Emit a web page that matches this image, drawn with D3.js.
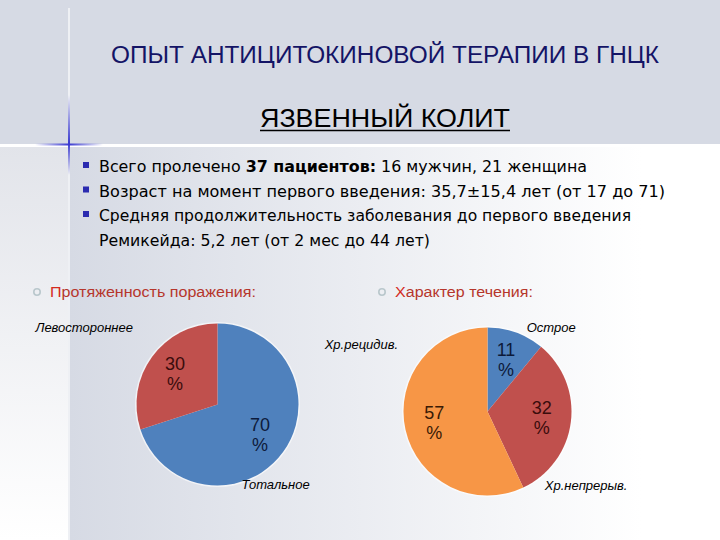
<!DOCTYPE html>
<meta charset="utf-8">
<style>
body { margin: 0; }
svg { display: block; }
.title { font-family: "Liberation Sans Narrow", "Arial Narrow", "Liberation Sans", sans-serif; fill: #141466; }
.bullets text { font-family: "DejaVu Sans Condensed", "DejaVu Sans", sans-serif; font-size: 15.5px; fill: #000; }
.head { font-family: "Liberation Sans", Arial, sans-serif; font-size: 14px; fill: #b6362c; }
.pct { font-family: "Liberation Sans", Arial, sans-serif; font-size: 18px; text-anchor: middle; }
.cat { font-family: "Liberation Sans", Arial, sans-serif; font-size: 13px; font-style: italic; fill: #000; text-anchor: middle; }
</style>
<body>
<svg width="720" height="540"></svg>
</body>
<script src="https://d3js.org/d3.v7.min.js"></script>
<script>

// chart data
var extentLabels = ["Тотальное", "Левостороннее"];
var extentValues = [70, 30];
var courseLabels = ["Острое", "Хр.непрерыв.", "Хр.рецидив."];
var courseValues = [11, 32, 57];

var bulletLines = [
  [{t: "Всего пролечено "}, {t: "37 пациентов:", b: true}, {t: " 16 мужчин, 21 женщина"}],
  [{t: "Возраст на момент первого введения: 35,7±15,4 лет (от 17 до 71)"}],
  [{t: "Средняя продолжительность заболевания до первого введения"}],
  [{t: "Ремикейда: 5,2 лет (от 2 мес до 44 лет)"}]
];

// where the outside category labels sit: [angle in degrees from top, radius factor]
var extentLabelPos = [[144, 1.22], [300, 1.9]];
var courseLabelPos = [[37, 1.26], [127, 1.47], [298, 1.7]];

(function() {
  var svg = d3.select("svg"),
      width = +svg.attr("width"),
      height = +svg.attr("height");

  var defs = svg.append("defs");

  var g1 = defs.append("linearGradient").attr("id", "mainBg")
      .attr("x1", 0).attr("x2", 1).attr("y1", 0).attr("y2", 0);
  g1.append("stop").attr("offset", "0%").attr("stop-color", "#d6dae4");
  g1.append("stop").attr("offset", "88%").attr("stop-color", "#ffffff");

  var g2 = defs.append("linearGradient").attr("id", "leftBg")
      .attr("x1", 0).attr("x2", 0).attr("y1", 0).attr("y2", 1);
  g2.append("stop").attr("offset", "0%").attr("stop-color", "#e2e4ea");
  g2.append("stop").attr("offset", "100%").attr("stop-color", "#ffffff");

  var g3 = defs.append("linearGradient").attr("id", "blueV")
      .attr("x1", 0).attr("x2", 0).attr("y1", 0).attr("y2", 1);
  g3.append("stop").attr("offset", "0%").attr("stop-color", "#3a3ad0").attr("stop-opacity", 0);
  g3.append("stop").attr("offset", "60%").attr("stop-color", "#3a3ad0").attr("stop-opacity", 1);
  g3.append("stop").attr("offset", "100%").attr("stop-color", "#3a3ad0").attr("stop-opacity", 0);

  var g4 = defs.append("linearGradient").attr("id", "blueH")
      .attr("x1", 0).attr("x2", 1).attr("y1", 0).attr("y2", 0);
  g4.append("stop").attr("offset", "0%").attr("stop-color", "#3a3ad0").attr("stop-opacity", 0);
  g4.append("stop").attr("offset", "50%").attr("stop-color", "#3a3ad0").attr("stop-opacity", 1);
  g4.append("stop").attr("offset", "100%").attr("stop-color", "#3a3ad0").attr("stop-opacity", 0);

  // background
  svg.append("rect").attr("width", width).attr("height", 145).attr("fill", "#d6dae4");
  svg.append("rect").attr("x", 0).attr("y", 145).attr("width", 69).attr("height", height - 145)
      .attr("fill", "url(#leftBg)");
  svg.append("rect").attr("x", 69).attr("y", 145).attr("width", width - 69).attr("height", height - 145)
      .attr("fill", "url(#mainBg)");
  svg.append("line").attr("x1", 69).attr("x2", 69).attr("y1", 8).attr("y2", height)
      .attr("stroke", "#eef0f4").attr("stroke-width", 2);
  svg.append("line").attr("x1", 0).attr("x2", width).attr("y1", 145.5).attr("y2", 145.5)
      .attr("stroke", "#ffffff").attr("stroke-width", 3);
  svg.append("rect").attr("x", 68).attr("y", 95).attr("width", 2).attr("height", 80).attr("fill", "url(#blueV)");
  svg.append("rect").attr("x", 35).attr("y", 143.5).attr("width", 68).attr("height", 2).attr("fill", "url(#blueH)");

  // titles
  svg.append("text").attr("class", "title")
      .attr("x", 385).attr("y", 63).attr("text-anchor", "middle")
      .attr("font-size", 23)
      .attr("textLength", 548).attr("lengthAdjust", "spacingAndGlyphs")
      .text("ОПЫТ АНТИЦИТОКИНОВОЙ ТЕРАПИИ В ГНЦК");

  svg.append("text").attr("class", "title")
      .attr("x", 385).attr("y", 127).attr("text-anchor", "middle")
      .attr("font-size", 26).style("fill", "#000")
      .attr("textLength", 250).attr("lengthAdjust", "spacingAndGlyphs")
      .text("ЯЗВЕННЫЙ КОЛИТ");
  svg.append("line").attr("x1", 260).attr("x2", 510).attr("y1", 130.5).attr("y2", 130.5)
      .attr("stroke", "#000").attr("stroke-width", 1.3);

  // bullet list
  var lineY = d3.scaleLinear().domain([0, 1]).range([172, 196.5]);
  var lineW = [488, 566, 532, 331];
  var bl = svg.append("g").attr("class", "bullets");
  bulletLines.forEach(function(parts, i) {
    if (i < 3) {
      bl.append("rect").attr("x", 83).attr("y", lineY(i) - 10).attr("width", 6).attr("height", 6)
          .attr("fill", "#2b2bb0");
    }
    var t = bl.append("text").attr("x", 99).attr("y", lineY(i))
        .attr("textLength", lineW[i]).attr("lengthAdjust", "spacingAndGlyphs");
    parts.forEach(function(p) {
      t.append("tspan").attr("font-weight", p.b ? "bold" : null).text(p.t);
    });
  });

  // section headers
  function header(x, y, txt, w) {
    svg.append("circle").attr("cx", x - 13).attr("cy", y - 5).attr("r", 3.2)
        .attr("fill", "none").attr("stroke", "#b9c7cc").attr("stroke-width", 1.6);
    var t = svg.append("text").attr("class", "head").attr("x", x).attr("y", y)
        .attr("textLength", w).attr("lengthAdjust", "spacingAndGlyphs");
    t.append("tspan").attr("fill", "#d42a1e").text(txt.charAt(0));
    t.append("tspan").text(txt.slice(1));
  }
  header(50, 297, "Протяженность поражения:", 206);
  header(395, 297, "Характер течения:", 138);

  var colors = ["#4f81bd", "#c0504d", "#f79646"];
  var pctColors = ["#0d1a3a", "#3a0c0c", "#3a1a05"];

  function drawPie(cx, cy, r, labels, values, labelPos) {
    var pie = d3.pie().sort(null).value(function(d) { return d; });
    var arc = d3.arc().innerRadius(0).outerRadius(r);
    var labelArc = d3.arc().innerRadius(0).outerRadius(r * 1.3);
    var g = svg.append("g").attr("transform", "translate(" + cx + "," + cy + ")");
    var arcs = pie(values);

    g.append("circle").attr("r", r + 1.5).attr("fill", "#ffffff").attr("opacity", 0.6);
    g.selectAll("path").data(arcs).enter().append("path")
        .attr("d", arc)
        .attr("fill", function(d, i) { return colors[i]; });

    var pct = g.selectAll("text.pct").data(arcs).enter().append("text")
        .attr("class", "pct")
        .attr("fill", function(d, i) { return pctColors[i]; })
        .attr("transform", function(d) { return "translate(" + labelArc.centroid(d) + ")"; });
    pct.append("tspan").attr("x", 0).attr("y", -4).text(function(d) { return d.value; });
    pct.append("tspan").attr("x", 0).attr("y", 16).text("%");

    g.selectAll("text.cat").data(arcs).enter().append("text")
        .attr("class", "cat")
        .attr("transform", function(d, i) {
          var a = labelPos[i][0] * Math.PI / 180, k = labelPos[i][1] * r;
          return "translate(" + (Math.sin(a) * k) + "," + (-Math.cos(a) * k) + ")";
        })
        .attr("dy", "0.35em")
        .text(function(d, i) { return labels[i]; });
  }

  drawPie(217.5, 404.5, 81, extentLabels, extentValues, extentLabelPos);
  drawPie(487.5, 411.5, 84, courseLabels, courseValues, courseLabelPos);
})();

</script>
